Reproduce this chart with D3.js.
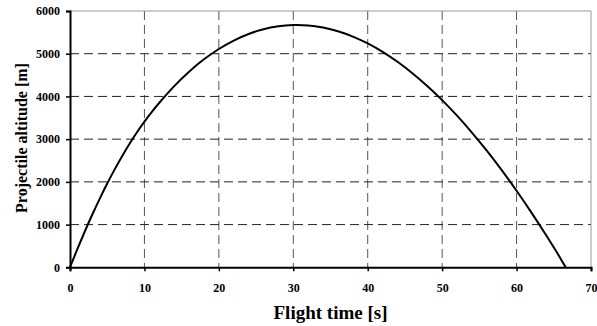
<!DOCTYPE html>
<html>
<head>
<meta charset="utf-8">
<script src="https://cdn.jsdelivr.net/npm/d3@7"></script>
<style>
  html, body { margin: 0; padding: 0; background: #fff; }
  svg { display: block; }
  text { font-family: "Liberation Serif", "Times New Roman", serif; font-weight: bold; fill: #000; }
</style>
</head>
<body>
<svg id="chart" width="597" height="326"></svg>
<script>
// Trajectory samples: flight time (s) and altitude (m)
const flightTime = [0, 1, 2, 3, 4, 5, 6, 7, 8, 9, 10, 11, 12, 14, 16, 18, 20, 22, 24, 26, 28, 30, 30.5, 32, 34, 36, 38, 40, 42, 44, 46, 48, 50, 52, 54, 56, 58, 60, 62, 64, 66, 66.6];
const altitude   = [0, 432, 844, 1236, 1608, 1960, 2292, 2602, 2892, 3162, 3410, 3640, 3852, 4242, 4580, 4869, 5111, 5308, 5462, 5574, 5641, 5670, 5672, 5662, 5612, 5525, 5401, 5240, 5043, 4811, 4545, 4245, 3913, 3550, 3155, 2730, 2275, 1792, 1281, 743, 179, 0];

const xTicks = [0, 10, 20, 30, 40, 50, 60, 70];
const yTicks = [0, 1000, 2000, 3000, 4000, 5000, 6000];

const xLabel = "Flight time [s]";
const yLabel = "Projectile altitude [m]";

const svg = d3.select("#chart");
const plot = { left: 70, right: 591, top: 11, bottom: 267.3 };

const x = d3.scaleLinear().domain([0, 70]).range([plot.left, plot.right]);
const y = d3.scaleLinear().domain([0, 6000]).range([plot.bottom, plot.top]);

// Dashed grid
svg.append("g").selectAll("line")
  .data(xTicks.filter(t => t > 0 && t < 70))
  .join("line")
  .attr("x1", d => x(d)).attr("x2", d => x(d))
  .attr("y1", plot.top).attr("y2", plot.bottom)
  .attr("stroke", "#555").attr("stroke-width", 1)
  .attr("stroke-dasharray", "9,5");

svg.append("g").selectAll("line")
  .data(yTicks.filter(t => t > 0 && t < 6000))
  .join("line")
  .attr("x1", plot.left).attr("x2", plot.right)
  .attr("y1", d => y(d)).attr("y2", d => y(d))
  .attr("stroke", "#222").attr("stroke-width", 1)
  .attr("stroke-dasharray", "9,5");

// Light frame on top and right
svg.append("path")
  .attr("d", `M${plot.left},${y(6000)}H${x(70)}V${plot.bottom}`)
  .attr("fill", "none").attr("stroke", "#999").attr("stroke-width", 1);

// Axes
const xAxis = svg.append("g")
  .attr("transform", `translate(0,${plot.bottom})`)
  .call(d3.axisBottom(x).tickValues(xTicks).tickSize(4).tickPadding(12).tickFormat(d3.format("d")));
const yAxis = svg.append("g")
  .attr("transform", `translate(${plot.left},0)`)
  .call(d3.axisLeft(y).tickValues(yTicks).tickSize(4).tickPadding(6).tickFormat(d3.format("d")));

[xAxis, yAxis].forEach(g => {
  g.select(".domain").attr("stroke", "#000").attr("stroke-width", 2);
  g.selectAll(".tick line").attr("stroke", "#000").attr("stroke-width", 1.5);
  g.selectAll(".tick text")
    .attr("font-family", "Liberation Serif, Times New Roman, serif")
    .attr("font-weight", "bold").attr("font-size", 12).attr("fill", "#000");
});

// Trajectory curve
const pts = flightTime.map((t, i) => [t, altitude[i]]);
svg.append("path")
  .datum(pts)
  .attr("fill", "none")
  .attr("stroke", "#000")
  .attr("stroke-width", 2)
  .attr("stroke-linejoin", "round")
  .attr("d", d3.line().x(d => x(d[0])).y(d => y(d[1])).curve(d3.curveMonotoneX));

// Axis titles
svg.append("text")
  .attr("x", (plot.left + plot.right) / 2)
  .attr("y", 319)
  .attr("text-anchor", "middle")
  .attr("font-size", 19)
  .text(xLabel);

svg.append("text")
  .attr("transform", `translate(27,138) rotate(-90)`)
  .attr("text-anchor", "middle")
  .attr("font-size", 16)
  .text(yLabel);
</script>
</body>
</html>
